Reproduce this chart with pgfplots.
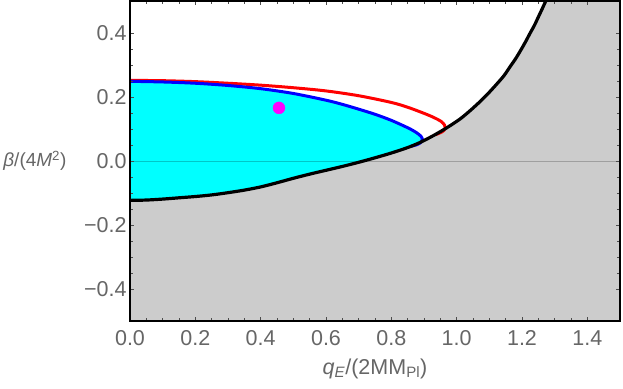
\documentclass[border=0pt]{standalone}
\usepackage{fontspec}
\setmainfont{Liberation Sans}
\usepackage{pgfplots}
\pgfplotsset{compat=1.18}
\definecolor{labgray}{rgb}{0.40,0.40,0.40}
\definecolor{fillgray}{rgb}{0.80,0.80,0.80}
\definecolor{cyanC}{rgb}{0,1,1}
\definecolor{magC}{rgb}{1,0,1}
\begin{document}
\begin{tikzpicture}
\begin{axis}[
  name=ax,
  scale only axis, width=490pt, height=320pt,
  xmin=0, xmax=1.5, ymin=-0.5, ymax=0.5,
  axis on top,
  axis line style={black, line width=1.1pt},
  xtick={0,0.2,0.4,0.6,0.8,1.0,1.2,1.4},
  xticklabels={0.0,0.2,0.4,0.6,0.8,1.0,1.2,1.4},
  ytick={-0.4,-0.2,0,0.2,0.4},
  yticklabels={−0.4,−0.2,0.0,0.2,0.4},
  minor x tick num=3, minor y tick num=3,
  tick align=inside,
  major tick length=4.5pt, minor tick length=2.7pt,
  every tick/.style={black!70, line width=0.8pt},
  ticklabel style={font=\fontsize{21.5}{24}\selectfont, text=labgray},
  xticklabel style={yshift=-6pt},
  every axis x label/.style={at={(rel axis cs:0.5,0)}, anchor=base, yshift=-53pt, font=\fontsize{21.5}{24}\selectfont, text=labgray},
  every axis y label/.style={at={(rel axis cs:0,0.5)}, anchor=east, xshift=-60pt, font=\fontsize{19}{22}\selectfont, text=labgray},
  xlabel={\textit{q}\textsubscript{\textit{E}}/(2MM\textsubscript{Pl})},
  ylabel={\textit{β}/(4\textit{M}\textsuperscript{2})},
]
% gray region below the black boundary
\addplot[draw=none, fill=fillgray] coordinates {
 (0.00,-0.123) (0.05,-0.122) (0.10,-0.119) (0.15,-0.115) (0.20,-0.111)
 (0.25,-0.106) (0.30,-0.099) (0.35,-0.091) (0.40,-0.081) (0.45,-0.068)
 (0.50,-0.054) (0.55,-0.041) (0.60,-0.029) (0.65,-0.017) (0.70,-0.004)
 (0.75,0.010) (0.80,0.025) (0.85,0.042) (0.888,0.058) (0.928,0.079)
 (0.97,0.104) (1.01,0.131) (1.043,0.159) (1.076,0.190) (1.10,0.215)
 (1.124,0.242) (1.145,0.267) (1.163,0.294) (1.18,0.319) (1.196,0.346)
 (1.21,0.371) (1.224,0.398) (1.238,0.424) (1.25,0.450) (1.262,0.476)
 (1.275,0.505) (1.5,0.505) (1.5,-0.505) (0,-0.505)
} -- cycle;
% cyan region
\addplot[draw=none, fill=cyanC] coordinates {
 (0.00,0.249) (0.10,0.247) (0.20,0.243) (0.30,0.236) (0.40,0.226)
 (0.50,0.211) (0.60,0.190) (0.65,0.177) (0.70,0.162) (0.75,0.146)
 (0.80,0.127) (0.85,0.104) (0.875,0.090) (0.89,0.078) (0.895,0.068)
 (0.890,0.058) (0.878,0.051) (0.860,0.046)
 (0.85,0.042) (0.80,0.025) (0.75,0.010) (0.70,-0.004) (0.65,-0.017)
 (0.60,-0.029) (0.55,-0.041) (0.50,-0.054) (0.45,-0.068) (0.40,-0.081)
 (0.35,-0.091) (0.30,-0.099) (0.25,-0.106) (0.20,-0.111) (0.15,-0.115)
 (0.10,-0.119) (0.05,-0.122) (0.00,-0.123)
} -- cycle;
% zero line
\addplot[black, opacity=0.22, line width=0.9pt] coordinates {(0,0) (1.5,0)};
% red curve
\addplot[red, line width=3pt, smooth, line join=round] coordinates {
 (0.00,0.252) (0.10,0.251) (0.20,0.248) (0.30,0.243) (0.40,0.237)
 (0.50,0.229) (0.60,0.219) (0.70,0.204) (0.80,0.183) (0.85,0.168)
 (0.90,0.149) (0.93,0.136) (0.952,0.124) (0.963,0.112) (0.964,0.100)
 (0.955,0.091) (0.935,0.082)
};
% blue curve
\addplot[blue, line width=3pt, smooth, line join=round] coordinates {
 (0.00,0.249) (0.10,0.247) (0.20,0.243) (0.30,0.236) (0.40,0.226)
 (0.50,0.211) (0.60,0.190) (0.65,0.177) (0.70,0.162) (0.75,0.146)
 (0.80,0.127) (0.85,0.104) (0.875,0.090) (0.89,0.078) (0.895,0.068)
 (0.890,0.058) (0.878,0.051) (0.860,0.046)
};
% black boundary
\addplot[black, line width=3.2pt, smooth, line join=round] coordinates {
 (0.00,-0.123) (0.05,-0.122) (0.10,-0.119) (0.15,-0.115) (0.20,-0.111)
 (0.25,-0.106) (0.30,-0.099) (0.35,-0.091) (0.40,-0.081) (0.45,-0.068)
 (0.50,-0.054) (0.55,-0.041) (0.60,-0.029) (0.65,-0.017) (0.70,-0.004)
 (0.75,0.010) (0.80,0.025) (0.85,0.042) (0.888,0.058) (0.928,0.079)
 (0.97,0.104) (1.01,0.131) (1.043,0.159) (1.076,0.190) (1.10,0.215)
 (1.124,0.242) (1.145,0.267) (1.163,0.294) (1.18,0.319) (1.196,0.346)
 (1.21,0.371) (1.224,0.398) (1.238,0.424) (1.25,0.450) (1.262,0.476)
 (1.275,0.505)
};
% magenta point
\addplot[only marks, mark=*, mark size=6pt, mark options={draw=magC, fill=magC}] coordinates {(0.456,0.166)};
\end{axis}
\pgfresetboundingbox
\path[use as bounding box] ([xshift=-130pt,yshift=-67pt]ax.south west) rectangle ([xshift=3pt,yshift=1pt]ax.north east);
\end{tikzpicture}
\end{document}
